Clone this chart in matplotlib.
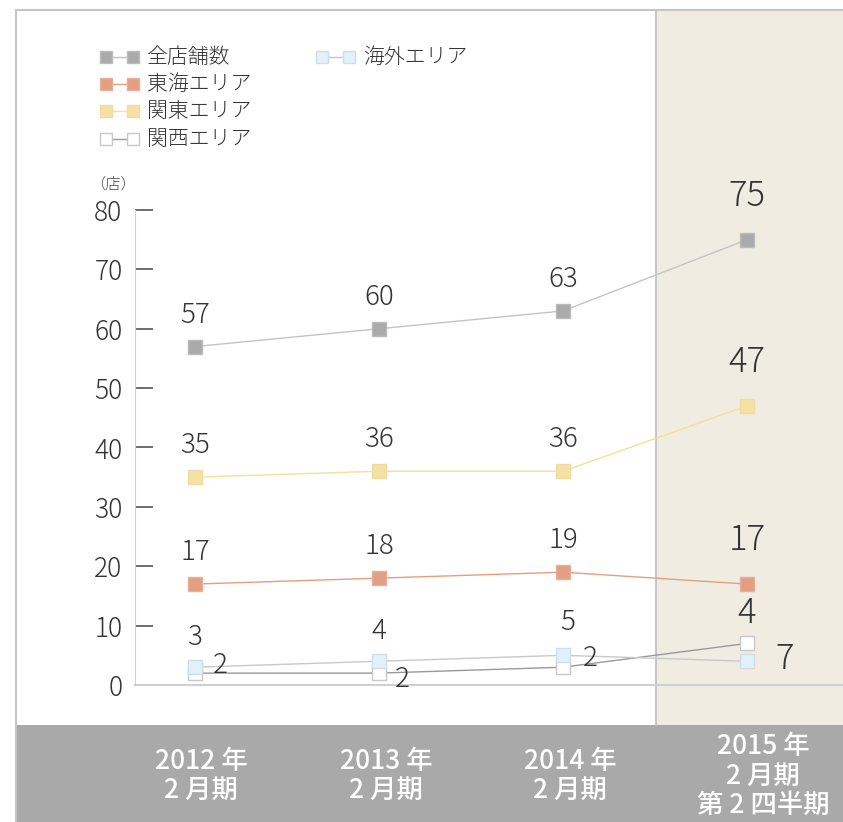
import matplotlib
matplotlib.use("Agg")
import matplotlib.pyplot as plt
from matplotlib.patches import Rectangle
from matplotlib.lines import Line2D

plt.rcParams['font.family'] = ['Noto Sans CJK JP', 'DejaVu Sans']

# data
periods = ['2012 年\n2 月期', '2013 年\n2 月期', '2014 年\n2 月期', '2015 年\n2 月期\n第 2 四半期']
total = [57, 60, 63, 75]
tokai = [17, 18, 19, 17]
kanto = [35, 36, 36, 47]
kansai = [2, 2, 3, 7]
overseas = [3, 4, 5, 4]
# labels printed near the two low series (as shown in the picture)
kansai_labels = ['2', '2', '2', '4']
overseas_labels = ['3', '4', '5', '7']

W, H = 843, 822
fig = plt.figure(figsize=(W / 100, H / 100), dpi=100)
fig.patch.set_facecolor('white')

def fx(px):
    return px / W

def fy(py):
    return 1 - py / H

# background blocks
fig.add_artist(Rectangle((fx(656), fy(725)), fx(843) - fx(656), fy(11) - fy(725),
                         facecolor='#f0ece2', edgecolor='none', zorder=-2))
fig.add_artist(Line2D([fx(656), fx(656)], [fy(11), fy(725)], color='#bdbdbd', lw=1.2, zorder=-1))
fig.add_artist(Rectangle((fx(16), 0), 1 - fx(16), fy(725), facecolor='#a8a9a8',
                         edgecolor='none', zorder=-2))
fig.add_artist(Line2D([fx(16), 1], [fy(10), fy(10)], color='#c4c4c4', lw=1.5, zorder=-1))
fig.add_artist(Line2D([fx(16), fx(16)], [fy(10), 0], color='#c4c4c4', lw=1.5, zorder=-1))

# plotting axes
ax = fig.add_axes([fx(135), fy(685), fx(843) - fx(135), fy(210) - fy(685)])
ax.set_facecolor('none')
ax.set_ylim(0, 80)
ax.set_xlim((135 - 195) / 184, (843 - 195) / 184)
ax.set_yticks(range(0, 81, 10))
ax.set_xticks([])
ax.tick_params(axis='y', direction='in', length=13, width=1.2, color='#555555',
               labelsize=19, labelcolor='#333333', pad=9)
for lab in ax.get_yticklabels():
    lab.set_fontweight('light')
for s in ['top', 'right']:
    ax.spines[s].set_visible(False)
ax.spines['left'].set_color('#d0d0d0')
ax.spines['bottom'].set_color('#d0d0d0')
ax.spines['bottom'].set_linewidth(1.5)

x = list(range(len(periods)))
series = [
    ('全店舗数', total, '#aaaaaa', '#bbbbbb', '#c4c4c4'),
    ('東海エリア', tokai, '#e29f82', '#e8b09a', '#e29f82'),
    ('関東エリア', kanto, '#f5e1a3', '#f0dca0', '#f5df9a'),
    ('関西エリア', kansai, 'white', '#c8c8c8', '#999999'),
    ('海外エリア', overseas, '#e2f0f9', '#cfdde6', '#c8c8c8'),
]
for name, vals, fc, ec, lc in series:
    ax.plot(x, vals, color=lc, lw=1, marker='s', ms=10.5, mfc=fc, mec=ec, mew=1,
            clip_on=False, zorder=3)

# value labels above the upper series
for vals in [total, kanto, tokai]:
    for i, v in enumerate(vals):
        big = i == 3
        ax.annotate(str(v), (i, v), xytext=(0, 44 if big else 32), textcoords='offset pixels',
                    ha='center', va='center', fontsize=25 if big else 20, weight='light',
                    color='#333333', annotation_clip=False)

# labels of the two small series
kansai_off = [(25, 8), (23, -6), (27, 9), (0, 30)]
overseas_off = [(0, 30), (0, 30), (5, 33), (38, 2)]
for i in x:
    big = i == 3
    fs = 25 if big else 20
    ax.annotate(kansai_labels[i], (i, kansai[i]), xytext=kansai_off[i], textcoords='offset pixels',
                ha='center', va='center', fontsize=fs, weight='light', color='#333333',
                annotation_clip=False)
    ax.annotate(overseas_labels[i], (i, overseas[i]), xytext=overseas_off[i],
                textcoords='offset pixels', ha='center', va='center', fontsize=fs,
                weight='light', color='#333333', annotation_clip=False)

# unit
fig.text(fx(113), fy(184), '（店）', ha='center', va='center', fontsize=11, weight='light',
         color='#444444')

# period labels in the grey band
label_x = [201, 386, 570, 763]
for lab, px in zip(periods, label_x):
    fig.text(fx(px), fy(776), lab, ha='center', va='center', fontsize=19,
             color='white', weight='medium', linespacing=1.12)

# legend
legend_pos = [(100, 57), (100, 84), (100, 111), (100, 139), (316, 57)]
for (name, vals, fc, ec, lc), (lx, ly) in zip(series, legend_pos):
    fig.add_artist(Line2D([fx(lx + 6), fx(lx + 33)], [fy(ly), fy(ly)], color=lc, lw=1,
                          marker='s', ms=9, mfc=fc, mec=ec, mew=1))
    fig.text(fx(lx + 47), fy(ly), name, ha='left', va='center', fontsize=15, weight='light',
             color='#333333')

fig.savefig('out.png', dpi=100)
